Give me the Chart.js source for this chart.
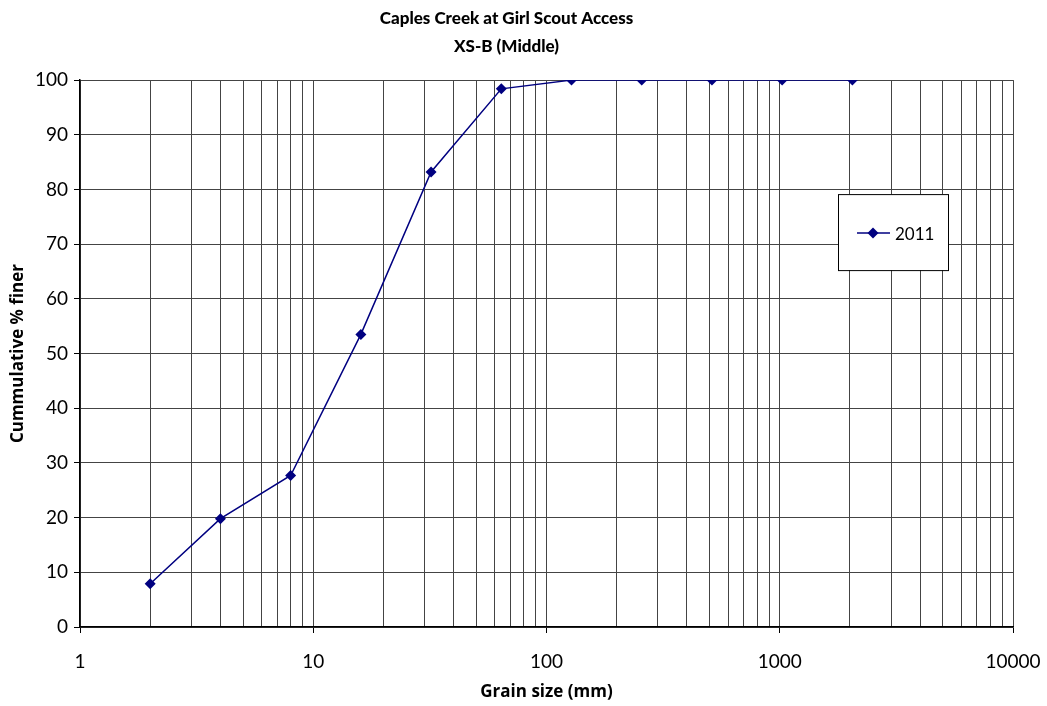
<!DOCTYPE html>
<html>
<head>
<meta charset="utf-8">
<script src="https://cdn.jsdelivr.net/npm/chart.js@4/dist/chart.umd.min.js"></script>
<style>
  html, body { margin: 0; padding: 0; background: #fff; }
  #wrap { width: 1047px; height: 706px; }
</style>
</head>
<body>
<div id="wrap"><canvas id="grafico"></canvas></div>
<script>
// dati
var grainSizes = [2, 4, 8, 16, 32, 64, 128, 256, 512, 1024, 2048];
var finer2011 = [7.9, 19.8, 27.7, 53.5, 83.2, 98.4, 100, 100, 100, 100, 100];
var seriesLabel = '2011';
var titleLines = ['Caples Creek at Girl Scout Access', 'XS-B (Middle)'];
var xTitle = 'Grain size (mm)';
var yTitle = 'Cummulative % finer';
// linee verticali della griglia (1..9 per decade)
var xGridTicks = [1, 2, 3, 4, 5, 6, 7, 8, 9,
  10, 20, 30, 40, 50, 60, 70, 80, 90,
  100, 200, 300, 400, 500, 600, 700, 800, 900,
  1000, 2000, 3000, 4000, 5000, 6000, 7000, 8000, 9000, 10000];
var decades = [1, 10, 100, 1000, 10000];

var font = 'Lato, Carlito, Calibri, "Open Sans", sans-serif';
var font2 = '"Open Sans", Lato, sans-serif';
var navy = '#000080';

var punti = grainSizes.map(function (g, i) { return { x: g, y: finer2011[i] }; });

// legenda dentro l'area del grafico
var legendBox = {
  id: 'legendBox',
  afterDraw: function (chart) {
    var c = chart.ctx;
    var a = chart.chartArea;
    var x0 = a.left + 758, y0 = a.top + 114, w = 110, h = 76;
    c.save();
    c.fillStyle = '#fff';
    c.fillRect(x0, y0, w, h);
    c.strokeStyle = '#000';
    c.lineWidth = 1;
    c.strokeRect(x0 + 0.5, y0 + 0.5, w, h);
    var ly = y0 + 39;
    c.strokeStyle = navy;
    c.lineWidth = 1.5;
    c.beginPath();
    c.moveTo(x0 + 19, ly);
    c.lineTo(x0 + 52, ly);
    c.stroke();
    c.fillStyle = navy;
    c.beginPath();
    c.moveTo(x0 + 35, ly - 5.5);
    c.lineTo(x0 + 40.5, ly);
    c.lineTo(x0 + 35, ly + 5.5);
    c.lineTo(x0 + 29.5, ly);
    c.closePath();
    c.fill();
    c.fillStyle = '#000';
    c.font = '17px ' + font;
    c.textBaseline = 'middle';
    c.textAlign = 'left';
    c.fillText(seriesLabel, x0 + 57, ly + 1);
    c.restore();
  }
};

var chart = new Chart(document.getElementById('grafico'), {
  type: 'line',
  data: {
    datasets: [{
      label: seriesLabel,
      data: punti,
      borderColor: navy,
      backgroundColor: navy,
      borderWidth: 1.5,
      pointStyle: 'rectRot',
      pointRadius: 5.5,
      pointBorderWidth: 0,
      tension: 0
    }]
  },
  plugins: [legendBox],
  options: {
    responsive: true,
    maintainAspectRatio: false,
    animation: false,
    layout: { padding: { left: 0, right: 34, top: 0, bottom: 0 } },
    plugins: {
      legend: { display: false },
      tooltip: { enabled: false },
      title: {
        display: true,
        text: titleLines,
        color: '#000',
        font: { family: font, size: 17, weight: 900, lineHeight: 1.65 },
        padding: { top: 4, bottom: 20 }
      }
    },
    scales: {
      x: {
        type: 'logarithmic',
        min: 1,
        max: 10000,
        afterBuildTicks: function (axis) {
          axis.ticks = xGridTicks.map(function (v) { return { value: v }; });
        },
        afterFit: function (axis) {
          axis.height = 79;
          axis.paddingLeft = 0;
          axis.paddingRight = 0;
        },
        ticks: {
          autoSkip: false,
          maxRotation: 0,
          padding: 17,
          color: '#000',
          font: { family: font, size: 19 },
          callback: function (v) {
            return decades.indexOf(v) >= 0 ? String(v) : '';
          }
        },
        grid: {
          color: '#444',
          lineWidth: 1,
          tickLength: 6,
          tickColor: function (ctx) {
            return ctx.tick && decades.indexOf(ctx.tick.value) >= 0 ? '#000' : 'rgba(0,0,0,0)';
          }
        },
        border: { color: '#000', width: 1.5 },
        title: {
          display: true,
          text: xTitle,
          color: '#000',
          font: { family: font2, size: 17, weight: 'bold' },
          padding: { top: 0, bottom: 4 }
        }
      },
      y: {
        min: 0,
        max: 100,
        afterFit: function (axis) { axis.width = 80; },
        ticks: {
          stepSize: 10,
          padding: 6,
          color: '#000',
          font: { family: font, size: 19 }
        },
        grid: { color: '#444', lineWidth: 1, tickLength: 6, tickColor: '#000' },
        border: { color: '#000', width: 1.5 },
        title: {
          display: true,
          text: yTitle,
          color: '#000',
          font: { family: font2, size: 17, weight: 'bold' },
          padding: { top: 8, bottom: 0 }
        }
      }
    }
  }
});
</script>
</body>
</html>
